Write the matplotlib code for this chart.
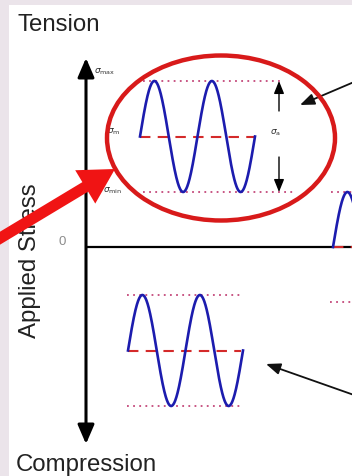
import numpy as np
import matplotlib
matplotlib.use("Agg")
import matplotlib.pyplot as plt
from matplotlib.patches import Ellipse, FancyArrowPatch, Rectangle, ArrowStyle

# ---- stress cycles (schematic stress units, 0 = unloaded) ----
cycle_labels = ["tension", "compression", "reversed"]
mean_stress = [110.5, -103.5, 0.0]
stress_amplitude = [55.5, 55.5, 55.0]
cycle_count = [2.0, 2.0, 1.0]

# axis captions
caption_top = "Tension"
caption_bottom = "Compression"
caption_axis = "Applied Stress"
zero_label = "0"
sigma_labels = [r"$\sigma_{\mathrm{max}}$", r"$\sigma_{\mathrm{m}}$",
                r"$\sigma_{\mathrm{min}}$", r"$\sigma_{\mathrm{a}}$"]

# ---- layout (figure pixels) ----
W, H = 352, 477
ZERO = 248                    # pixel row of the zero-stress line
wave_x0 = [140, 128, 333]     # where each cycle starts
wave_period = 57.5
guide_span = [(143, 283, 143, 295), (127, 241, 127, 241), (331, 352, 330, 352)]
mean_span = [(140, 255), (128, 241), (333, 352)]

BLUE = "#1c1cae"
DOT = "#c4487a"
DASH = "#d42a2a"
RED = "#d81a1a"


def py(y):
    """pixel row -> stress coordinate"""
    return ZERO - y


fig = plt.figure(figsize=(W / 100, H / 100), dpi=100)
fig.patch.set_facecolor("#ebe4ea")
ax = fig.add_axes([0, 0, 1, 1])
ax.set_xlim(0, W)
ax.set_ylim(ZERO - H, ZERO)
ax.axis("off")

ax.add_patch(Rectangle((9, py(H)), W - 9, H - 6, facecolor="white",
                       edgecolor="none", zorder=0))

# stress axis with arrows at both ends, and the zero line
ax.add_patch(FancyArrowPatch((86, py(445)), (86, py(59)),
                             arrowstyle=ArrowStyle("<|-|>", head_length=0.58, head_width=0.25),
                             mutation_scale=20, color="black", lw=2.2,
                             shrinkA=0, shrinkB=0, zorder=3))
ax.plot([86, W], [0, 0], color="black", lw=1.6, zorder=3, solid_capstyle="butt")

# cycles with max/min guides and mean lines
for i in range(len(cycle_labels)):
    m, a, n = mean_stress[i], stress_amplitude[i], cycle_count[i]
    x = np.linspace(wave_x0[i], wave_x0[i] + n * wave_period, 400)
    y = m + a * np.sin(2 * np.pi * (x - wave_x0[i]) / wave_period)
    tx0, tx1, bx0, bx1 = guide_span[i]
    ax.plot([tx0, tx1], [m + a, m + a], color=DOT, lw=1.3,
            linestyle=(0, (1, 2.4)), zorder=2)
    ax.plot([bx0, bx1], [m - a, m - a], color=DOT, lw=1.3,
            linestyle=(0, (1, 2.4)), zorder=2)
    ax.plot(list(mean_span[i]), [m, m], color=DASH, lw=1.5,
            linestyle=(0, (5, 3.5)), zorder=4)
    ax.plot(x, y, color=BLUE, lw=1.9, zorder=5)

# amplitude arrows
m0, a0 = mean_stress[0], stress_amplitude[0]
for y_from, y_to in [(py(112), m0 + a0), (py(158), m0 - a0)]:
    ax.add_patch(FancyArrowPatch((279, y_from), (279, y_to),
                                 arrowstyle=ArrowStyle("-|>", head_length=0.42, head_width=0.17),
                                 mutation_scale=18, color="black", lw=1.0,
                                 shrinkA=0, shrinkB=0, zorder=4))

# callout arrows from the right
for start, end in [((W + 2, py(83)), (300, py(106))),
                   ((W + 2, py(396)), (266, py(365)))]:
    ax.add_patch(FancyArrowPatch(start, end,
                                 arrowstyle=ArrowStyle("-|>", head_length=0.48, head_width=0.19),
                                 mutation_scale=18, color="#111111", lw=1.3,
                                 shrinkA=0, shrinkB=0, zorder=4))

# stress level labels
lab_kw = dict(color="#333333", fontsize=6.5, zorder=3)
ax.text(94, py(72), sigma_labels[0], ha="left", va="center", **lab_kw)
ax.text(107, py(132), sigma_labels[1], ha="left", va="center", **lab_kw)
ax.text(103, py(191), sigma_labels[2], ha="left", va="center", **lab_kw)
ax.text(270, py(133), sigma_labels[3], ha="left", va="center", **lab_kw)
ax.text(62, py(242), zero_label, ha="center", va="center", color="#8c8c8c",
        fontsize=9.5, family="Liberation Sans")

# captions
cap_kw = dict(family="Liberation Sans", fontsize=17.3, color="#222222")
ax.text(17, py(31), caption_top, ha="left", va="baseline", **cap_kw)
ax.text(16, py(471), caption_bottom, ha="left", va="baseline", **cap_kw)
ax.text(30, py(261), caption_axis, ha="center", va="center", rotation=90, **cap_kw)

# highlight ring round the tension cycle
ax.add_patch(Ellipse((221, py(139)), 228, 165, fill=False, edgecolor=RED,
                     lw=3.2, zorder=6))

# bold pointer to the ring
ax.add_patch(FancyArrowPatch((-8, py(244)), (115, py(170)),
                             arrowstyle=ArrowStyle("simple", head_length=25, head_width=28,
                                                   tail_width=8),
                             mutation_scale=1, color="#f01414", lw=0,
                             shrinkA=0, shrinkB=0, zorder=7))

fig.savefig("out.png", dpi=100, facecolor=fig.get_facecolor())
